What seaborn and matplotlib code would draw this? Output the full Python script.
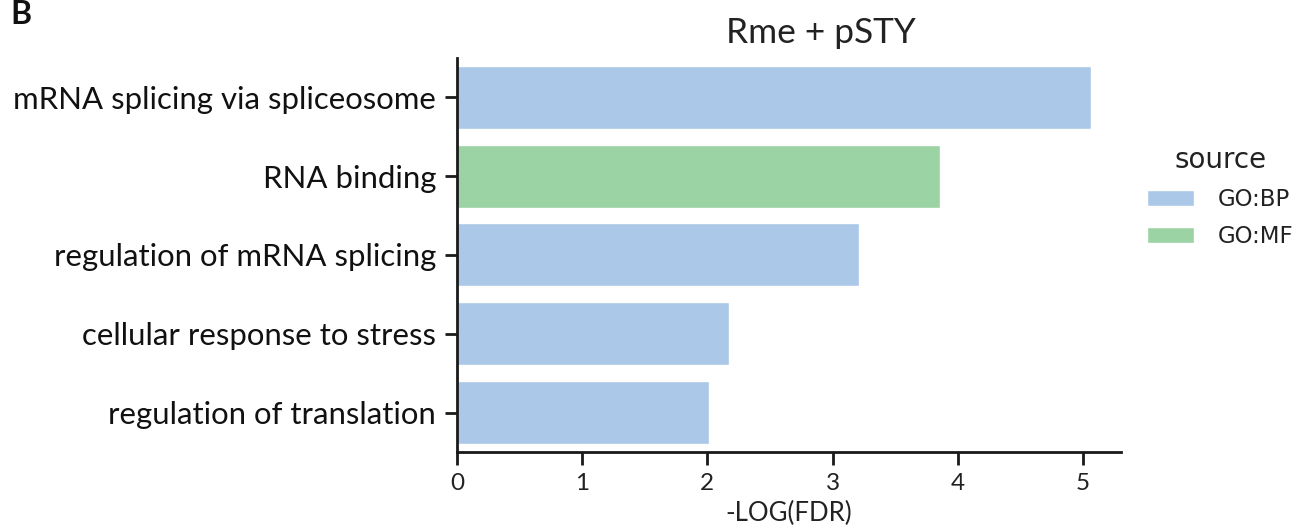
import matplotlib
matplotlib.use("Agg")
import matplotlib.pyplot as plt
import seaborn as sns
import pandas as pd

# GO enrichment terms, their source and -log10(FDR)
terms = [
    "mRNA splicing via spliceosome",
    "RNA binding",
    "regulation of mRNA splicing",
    "cellular response to stress",
    "regulation of translation",
]
sources = ["GO:BP", "GO:MF", "GO:BP", "GO:BP", "GO:BP"]
neg_log_fdr = [5.06, 3.86, 3.21, 2.17, 2.01]
source_order = ["GO:BP", "GO:MF"]
xticks = [0, 1, 2, 3, 4, 5]

df = pd.DataFrame({"term": terms, "source": sources, "-LOG(FDR)": neg_log_fdr})

sns.set_theme(style="ticks")
main_font = ["Lato", "DejaVu Sans"]

fig = plt.figure(figsize=(13, 5.29), dpi=100)
ax = fig.add_axes([0.3515, 0.1456, 0.5105, 0.7448])

palette = {"GO:BP": "#abc8e8", "GO:MF": "#9bd3a4"}
sns.barplot(data=df, x="-LOG(FDR)", y="term", hue="source", hue_order=source_order,
            order=terms, palette=palette, dodge=False, width=0.8, saturation=1,
            ax=ax)

ax.set_xlim(0, 5.3)
ax.set_ylim(4.5, -0.5)
ax.set_xticks(xticks)
ax.set_xticklabels([str(t) for t in xticks], fontsize=17.5, family=main_font, color="#222222")
ax.set_yticks(range(len(terms)))
ax.set_yticklabels(terms, fontsize=22.4, family=main_font, color="#111111")
ax.set_ylabel("")
ax.set_xlabel("-LOG(FDR)", fontsize=18.5, family=main_font, color="#222222", labelpad=5)
ax.tick_params(axis="both", length=9, width=2, color="#1a1a1a", pad=6)
for side in ("left", "bottom"):
    ax.spines[side].set_linewidth(2)
    ax.spines[side].set_color("#1a1a1a")
sns.despine(ax=ax)

leg = ax.legend(title="source", loc="upper left",
                bbox_to_anchor=(1136 / 1300, 1 - 135 / 529),
                bbox_transform=fig.transFigure, borderpad=0,
                frameon=False, prop={"family": "DejaVu Sans", "size": 16.5},
                title_fontproperties={"family": "DejaVu Sans", "size": 20},
                handlelength=2.05, handleheight=0.7, handletextpad=1.0,
                labelspacing=0.6)
leg.get_title().set_color("#222222")
for t in leg.get_texts():
    t.set_color("#222222")

fig.text(821 / 1300, 1 - 33 / 529, "Rme + pSTY", ha="center", va="center",
         fontsize=25.4, family=main_font, color="#222222")
fig.text(10 / 1300, 1 - 14 / 529, "B", ha="left", va="center",
         fontsize=23, fontweight="bold", family=main_font, color="#111111")

fig.savefig("out.png", dpi=100)
